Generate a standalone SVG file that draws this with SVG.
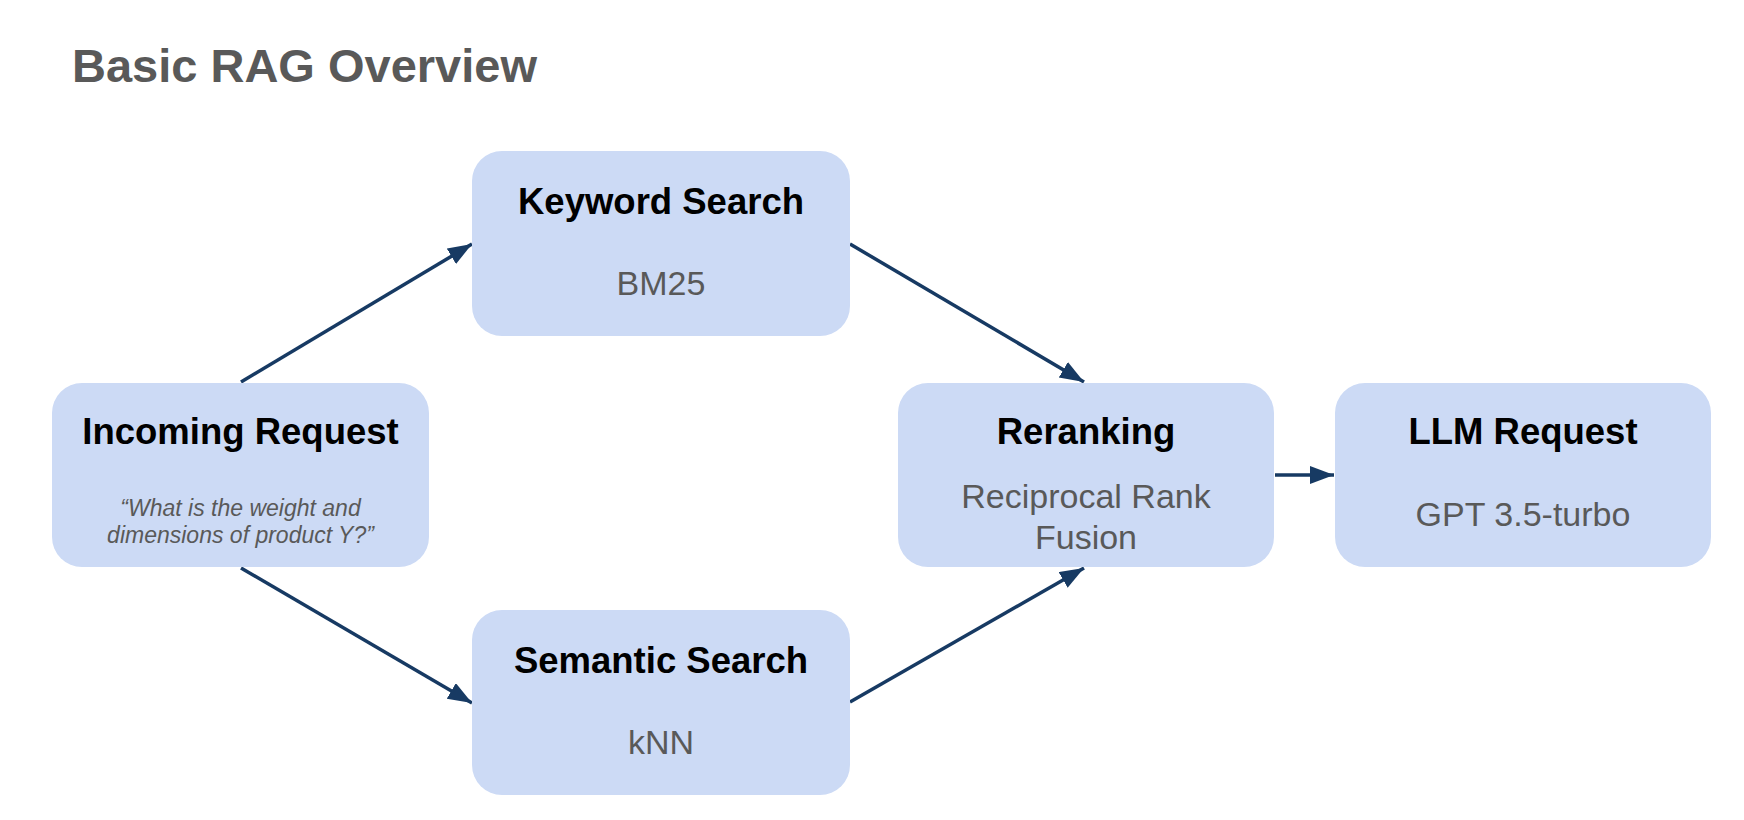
<svg xmlns="http://www.w3.org/2000/svg" width="1744" height="820" viewBox="0 0 1744 820">
<style>
.box{fill:#ccdaf5}
.ttl{font-family:"Liberation Sans",Arial,sans-serif;font-weight:bold;font-size:36.5px;fill:#000;text-anchor:middle}
.sub{font-family:"Liberation Sans",Arial,sans-serif;font-size:34px;fill:#595959;text-anchor:middle}
.q{font-family:"Liberation Sans",Arial,sans-serif;font-style:italic;font-size:23px;fill:#595959;text-anchor:middle}
.head{font-family:"Liberation Sans",Arial,sans-serif;font-weight:bold;font-size:47px;fill:#595959}
.edge{stroke:#173a63;stroke-width:3.5;fill:none;marker-end:url(#arr)}
</style>
<defs>
<marker id="arr" markerUnits="userSpaceOnUse" markerWidth="26" markerHeight="20" refX="24" refY="9" orient="auto">
<path d="M0,0 L24,9 L0,18 z" fill="#173a63"/>
</marker>
</defs>
<rect width="1744" height="820" fill="#fff"/>
<text class="head" x="72" y="82">Basic RAG Overview</text>
<g id="connectors">
<line class="edge" x1="241" y1="382" x2="472" y2="244"/>
<line class="edge" x1="241" y1="568" x2="472" y2="703"/>
<line class="edge" x1="850" y1="244" x2="1084" y2="382"/>
<line class="edge" x1="850" y1="702" x2="1084" y2="568"/>
<line class="edge" x1="1275" y1="475" x2="1334" y2="475"/>
</g>
<g id="incoming">
<rect class="box" x="52" y="383" width="377" height="184" rx="30"/>
<text class="ttl" x="240.5" y="444">Incoming Request</text>
<text class="q" x="240.5" y="516">“What is the weight and</text>
<text class="q" x="240.5" y="543">dimensions of product Y?”</text>
</g>
<g id="keyword">
<rect class="box" x="472" y="151" width="378" height="185" rx="30"/>
<text class="ttl" x="661" y="214">Keyword Search</text>
<text class="sub" x="661" y="295">BM25</text>
</g>
<g id="semantic">
<rect class="box" x="472" y="610" width="378" height="185" rx="30"/>
<text class="ttl" x="661" y="673">Semantic Search</text>
<text class="sub" x="661" y="754">kNN</text>
</g>
<g id="reranking">
<rect class="box" x="898" y="383" width="376" height="184" rx="30"/>
<text class="ttl" x="1086" y="444">Reranking</text>
<text class="sub" x="1086" y="508">Reciprocal Rank</text>
<text class="sub" x="1086" y="549">Fusion</text>
</g>
<g id="llm">
<rect class="box" x="1335" y="383" width="376" height="184" rx="30"/>
<text class="ttl" x="1523" y="444">LLM Request</text>
<text class="sub" x="1523" y="526">GPT 3.5-turbo</text>
</g>
</svg>
